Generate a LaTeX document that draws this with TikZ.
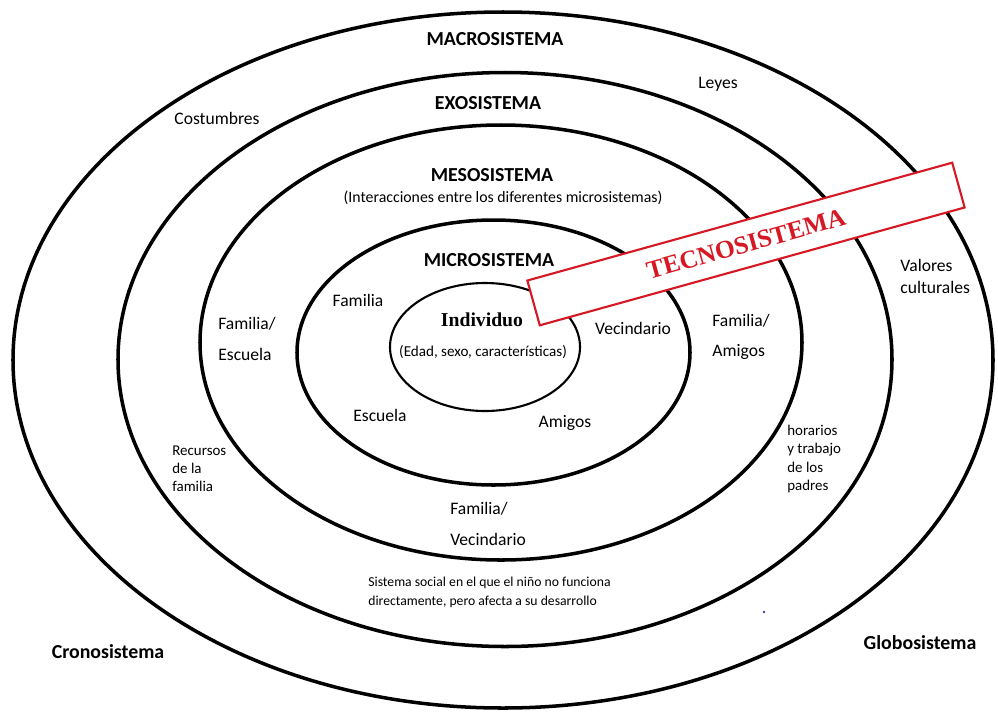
\documentclass[tikz,border=0pt]{standalone}
\usepackage{fontspec}
\setmainfont{Carlito}
\newfontfamily\timesfont{Liberation Serif}
\usetikzlibrary{positioning,calc}

\definecolor{tecnored}{RGB}{214,24,36}
\definecolor{dotblue}{RGB}{60,60,170}

\tikzset{
  ring/.style={line width=2pt},
  thinring/.style={line width=1.2pt},
  headtxt/.style={font=\fontsize{11.3}{13}\selectfont\bfseries},
  lbltxt/.style={font=\fontsize{10}{12}\selectfont},
  midtxt/.style={font=\fontsize{9}{11}\selectfont},
  smalltxt/.style={font=\fontsize{8.5}{10.3}\selectfont, align=left, anchor=west},
  every node/.style={inner sep=0pt}
}

\begin{document}
\begin{tikzpicture}[x=0.02cm, y=-0.02cm]
\useasboundingbox (0,0) rectangle (998,711);
% ellipses, outside to inside
\coordinate (Cmacro) at (503,360);
\coordinate (Cexo) at (505,359.5);
\coordinate (Cmeso) at (501,342.5);
\coordinate (Cmicro) at (493.5,352.5);
\coordinate (Cind) at (485,347);
\draw[ring] (Cmacro) ellipse [x radius=490, y radius=348];
\draw[ring] (Cexo) ellipse [x radius=387, y radius=287];
\draw[ring] (Cmeso) ellipse [x radius=301, y radius=217.5];
\draw[ring] (Cmicro) ellipse [x radius=196.5, y radius=132.5];
\draw[thinring] (Cind) ellipse [x radius=95, y radius=64];

% layer titles
\node[headtxt] (macro) at (495,39) {MACROSISTEMA};
\node[headtxt] (exo) at (488,103) {EXOSISTEMA};
\node[headtxt] (meso) at (492,175) {MESOSISTEMA};
\node[midtxt] (inter) at (503,198) {(Interacciones entre los diferentes microsistemas)};
\node[headtxt] (micro) at (489,260) {MICROSISTEMA};

% individuo
\node[font=\timesfont\fontsize{11.2}{13}\selectfont\bfseries] (indiv) at (482,320) {Individuo};
\node[font=\fontsize{8.6}{10}\selectfont] (edad) at (483,352) {(Edad, sexo, características)};

% microsistema
\node[lbltxt] (familia) at (358,300) {Familia};
\node[lbltxt] (vecin) at (633,328) {Vecindario};
\node[lbltxt] (escuela) at (380,415) {Escuela};
\node[lbltxt] (amigos) at (565,423) {Amigos};

% mesosistema
\node[lbltxt, align=left, anchor=west, font=\fontsize{10}{18.1}\selectfont] (famesc) at (218,339) {Familia/\\Escuela};
\node[lbltxt, align=left, anchor=west, font=\fontsize{10}{17}\selectfont] (famami) at (712,337) {Familia/\\Amigos};
\node[lbltxt, align=left, anchor=west, font=\fontsize{10}{18.1}\selectfont] (famvec) at (450,524) {Familia/\\Vecindario};

% exosistema
\node[smalltxt] (recursos) at (172,469) {Recursos\\de la\\familia};
\node[smalltxt] (horarios) at (787,459) {horarios\\y trabajo\\de los\\padres};
\node[smalltxt, font=\fontsize{7.8}{10.8}\selectfont] (social) at (368,592.5) {Sistema social en el que el niño no funciona\\directamente, pero afecta a su desarrollo};

% macrosistema
\node[lbltxt] (costumbres) at (217,118) {Costumbres};
\node[lbltxt] (leyes) at (718,84) {Leyes};
\node[lbltxt, align=left, anchor=west, font=\fontsize{10}{12.5}\selectfont] (valores) at (900,276) {Valores\\culturales};

% outside
\node[headtxt] (crono) at (108,652) {Cronosistema};
\node[headtxt] (globo) at (920,643) {Globosistema};
\fill[dotblue] (764,612) circle [radius=1.3];

% tecnosistema band
\node[draw=tecnored, line width=1.2pt, fill=white, rotate=15.5,
      minimum width=8.82cm, minimum height=0.93cm,
      font=\timesfont\fontsize{14.5}{16}\selectfont\bfseries, text=tecnored] (tecno) at (746,244) {TECNOSISTEMA};
\end{tikzpicture}
\end{document}
